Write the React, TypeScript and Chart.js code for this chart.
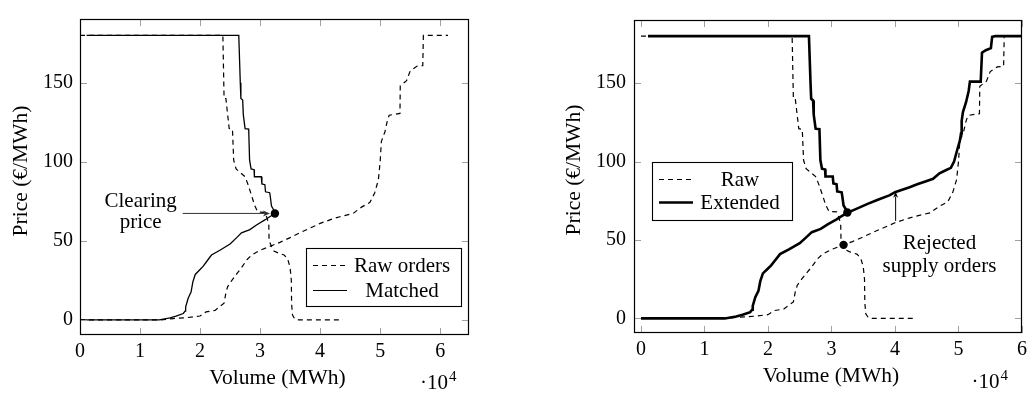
import React, { useEffect, useRef } from "react";
import { Chart, registerables } from "chart.js";

Chart.register(...registerables);

const SERIF = '"Liberation Serif", "Times New Roman", serif';

// ---- Data (volume in MWh, price in €/MWh) ----
const rawDemandVolume = [0, 23800, 23900, 24000, 24300, 24850, 25400, 25600, 26000, 27500, 28000, 28600, 29100, 29600, 30800, 31200, 31450, 31500, 31900, 32300, 33000, 34000, 34600, 35000, 35200, 35250, 35400, 35800, 36400, 43300];
const rawDemandPrice = [180, 180, 160, 140, 140, 121, 120.5, 101, 95.5, 90.5, 85.5, 78.4, 72.3, 68.2, 68, 64, 60, 50, 46.5, 43.5, 42.3, 41, 38.5, 33, 25, 10, 3, 0.5, 0, 0];

const rawSupplyVolume = [0, 13500, 15500, 17800, 20000, 21000, 22500, 23300, 24000, 24300, 24600, 25300, 26100, 26900, 27800, 28600, 30000, 31900, 33300, 35000, 36600, 38300, 40000, 42200, 43300, 45500, 46900, 48300, 49100, 49700, 50000, 50200, 50800, 51200, 51500, 53300, 53350, 54400, 55000, 56100, 57100, 57200, 61300];
const rawSupplyPrice = [0, 0, 0.8, 1.4, 2.4, 5, 6, 8.5, 10.5, 17, 21, 25, 29, 33, 38, 41, 44, 46.9, 49, 52, 55, 58, 61, 64, 65.2, 67.3, 71.3, 74.3, 80.4, 88.5, 100, 112.8, 119, 126, 129.4, 130.6, 148, 151.3, 157.4, 160.4, 160.8, 180, 180];

const matchedDemandVolume = [1100, 26450, 26700, 26800, 27100, 27200, 27500, 28100, 28250, 28500, 29000, 29050, 30200, 30300, 30800, 30900, 31600, 31700, 31900, 32200, 32470];
const matchedDemandPrice = [180, 180, 150, 140, 139, 130, 121, 120.7, 101, 95.5, 95, 90.5, 90.5, 86, 85.5, 81, 80.4, 78, 72, 70, 67.3];

const matchedSupplyVolume = [0, 13200, 15000, 16000, 17200, 17500, 17600, 18000, 18500, 18800, 19200, 20000, 20500, 21100, 21900, 23300, 25000, 26100, 26900, 28300, 29400, 30800, 31600, 32470];
const matchedSupplyPrice = [0, 0, 1.2, 2.4, 4, 5.5, 8, 13.5, 17.6, 24, 28.7, 31.8, 33.8, 36.9, 41, 44, 48, 52, 55, 57.1, 60, 63.2, 65.2, 67.3];

const extendedSupplyTailVolume = [34000, 35600, 37200, 39200, 40000, 40800, 42300, 43500, 44900, 46000, 47000, 48000, 48800, 49300, 49900, 50200, 50400, 50500, 50700, 51200, 51600, 51800, 53500, 53700, 54300, 55100, 55300, 55800, 60000];
const extendedSupplyTailPrice = [70, 72.9, 75.5, 78.6, 80.5, 81.6, 83.6, 85.5, 87.5, 89, 92.5, 94.5, 96, 100, 109, 113, 118, 126, 131.6, 138, 145, 151, 151, 169.4, 171, 172.4, 179.6, 180, 180];

const matchedClearingVolume = [32470];
const matchedClearingPrice = [67.3];
const extendedClearingVolume = [32500, 31900];
const extendedClearingPrice = [67.5, 46.9];

const xTickValues = [0, 10000, 20000, 30000, 40000, 50000, 60000];
const yTickValues = [0, 50, 100, 150];

const leftLegendLabels = ["Raw orders", "Matched"];
const rightLegendLabels = ["Raw", "Extended"];
const clearingLabel = ["Clearing", "price"];
const rejectedLabel = ["Rejected", "supply orders"];

// ---- helpers ----
const pts = (xs: number[], ys: number[]) => xs.map((x, i) => ({ x, y: ys[i] }));

function lineDs(data: any[], width: number, dash: number[]) {
  return {
    data,
    showLine: true,
    borderColor: "#000",
    backgroundColor: "#000",
    borderWidth: width,
    borderDash: dash,
    pointRadius: 0,
    pointHoverRadius: 0,
    tension: 0,
    fill: false,
  };
}

function pointDs(data: any[]) {
  return {
    data,
    showLine: false,
    pointRadius: 4.2,
    pointBackgroundColor: "#000",
    pointBorderWidth: 0,
    borderWidth: 0,
  };
}

function seg(ctx: CanvasRenderingContext2D, x1: number, y1: number, x2: number, y2: number) {
  ctx.beginPath();
  ctx.moveTo(x1, y1);
  ctx.lineTo(x2, y2);
  ctx.stroke();
}

function txt(ctx: CanvasRenderingContext2D, s: string, x: number, y: number, size: number, align: CanvasTextAlign = "center") {
  ctx.font = `${size}px ${SERIF}`;
  ctx.fillStyle = "#000";
  ctx.textAlign = align;
  ctx.textBaseline = "alphabetic";
  ctx.fillText(s, x, y);
}

const framePlugin = {
  id: "frame",
  afterDraw(chart: any) {
    const { ctx, chartArea: a, scales } = chart;
    ctx.save();
    ctx.setLineDash([]);
    ctx.strokeStyle = "#a0a0a0";
    ctx.lineWidth = 1;
    const T = 7;
    for (const v of xTickValues) {
      const px = Math.round(scales.x.getPixelForValue(v)) + 0.5;
      if (px < a.left - 1 || px > a.right + 1) continue;
      seg(ctx, px, a.bottom, px, a.bottom - T);
      seg(ctx, px, a.top, px, a.top + T);
    }
    for (const v of yTickValues) {
      const py = Math.round(scales.y.getPixelForValue(v)) + 0.5;
      seg(ctx, a.left, py, a.left + T, py);
      seg(ctx, a.right, py, a.right - T, py);
    }
    ctx.strokeStyle = "#000";
    ctx.lineWidth = 1.2;
    ctx.strokeRect(Math.round(a.left) + 0.5, Math.round(a.top) + 0.5, Math.round(a.width) - 1, Math.round(a.height) - 1);
    ctx.restore();
  },
};

function drawAxisTitles(ctx: CanvasRenderingContext2D, xCenter: number, xBase: number, expX: number, expBase: number, yCenter: number, yBase: number) {
  txt(ctx, "Volume (MWh)", xCenter, xBase, 21.5);
  // ·10^4
  ctx.font = `21px ${SERIF}`;
  txt(ctx, "·10", expX, expBase, 21, "left");
  ctx.font = `21px ${SERIF}`;
  const w = ctx.measureText("·10").width;
  txt(ctx, "4", expX + w + 1, expBase - 8, 15, "left");
  // y title
  ctx.save();
  ctx.translate(yBase, yCenter);
  ctx.rotate(-Math.PI / 2);
  txt(ctx, "Price (€/MWh)", 0, 0, 21.5);
  ctx.restore();
}

function drawLegend(ctx: CanvasRenderingContext2D, box: { l: number; t: number; r: number; b: number }, rows: { label: string; y: number; base: number; dash: number[]; width: number }[], sx1: number, sx2: number, textX: number) {
  ctx.save();
  ctx.fillStyle = "#fff";
  ctx.fillRect(box.l, box.t, box.r - box.l, box.b - box.t);
  ctx.strokeStyle = "#000";
  ctx.lineWidth = 1.1;
  ctx.setLineDash([]);
  ctx.strokeRect(box.l + 0.5, box.t + 0.5, box.r - box.l, box.b - box.t);
  for (const row of rows) {
    ctx.lineWidth = row.width;
    ctx.setLineDash(row.dash);
    seg(ctx, sx1, row.y, sx2, row.y);
    ctx.setLineDash([]);
    txt(ctx, row.label, textX, row.base, 21);
  }
  ctx.restore();
}

function arrowHead(ctx: CanvasRenderingContext2D, x: number, y: number, dx: number, dy: number, len: number, half: number) {
  const nx = -dy, ny = dx;
  ctx.beginPath();
  ctx.moveTo(x, y);
  ctx.lineTo(x - dx * len + nx * half, y - dy * len + ny * half);
  ctx.lineTo(x - dx * len * 0.7, y - dy * len * 0.7);
  ctx.lineTo(x - dx * len - nx * half, y - dy * len - ny * half);
  ctx.closePath();
  ctx.fill();
}

const leftDecor = {
  id: "leftDecor",
  afterDraw(chart: any) {
    const { ctx, scales } = chart;
    const X = (v: number) => scales.x.getPixelForValue(v);
    const Y = (v: number) => scales.y.getPixelForValue(v);
    ctx.save();
    drawAxisTitles(ctx, 277.5, 383.5, 420, 389, 171, 27);
    drawLegend(
      ctx,
      { l: 306, t: 248, r: 461, b: 306 },
      [
        { label: leftLegendLabels[0], y: 265.5, base: 271.5, dash: [5, 4], width: 1.2 },
        { label: leftLegendLabels[1], y: 290.5, base: 296.5, dash: [], width: 1.2 },
      ],
      313, 347, 402
    );
    // clearing price arrow
    const py = Y(matchedClearingPrice[0]);
    const x1 = X(17100);
    const x2 = X(matchedClearingVolume[0]) - 5;
    ctx.strokeStyle = "#333";
    ctx.fillStyle = "#333";
    ctx.lineWidth = 1;
    seg(ctx, x1, py, x2 - 3, py);
    arrowHead(ctx, x2, py, 1, 0, 7, 3);
    txt(ctx, clearingLabel[0], X(10100), Y(71.3), 21);
    txt(ctx, clearingLabel[1], X(10100), Y(58.2), 21);
    ctx.restore();
  },
};

const rightDecor = {
  id: "rightDecor",
  afterDraw(chart: any) {
    const { ctx, scales } = chart;
    const X = (v: number) => scales.x.getPixelForValue(v);
    const Y = (v: number) => scales.y.getPixelForValue(v);
    ctx.save();
    drawAxisTitles(ctx, 271, 382, 411.5, 388, 170, 20);
    drawLegend(
      ctx,
      { l: 92, t: 162, r: 232, b: 220 },
      [
        { label: rightLegendLabels[0], y: 179.5, base: 185.5, dash: [5, 4], width: 1.2 },
        { label: rightLegendLabels[1], y: 202.5, base: 208.5, dash: [], width: 2.6 },
      ],
      99, 133, 180
    );
    // rejected supply arrow
    const ax = X(40100);
    ctx.strokeStyle = "#000";
    ctx.fillStyle = "#000";
    ctx.lineWidth = 1;
    seg(ctx, ax, Y(62.2), ax, Y(79.6) + 3);
    arrowHead(ctx, ax, Y(80.8), 0, -1, 6, 2.5);
    txt(ctx, rejectedLabel[0], X(47000), Y(44.3), 21);
    txt(ctx, rejectedLabel[1], X(47000), Y(29.6), 21);
    ctx.restore();
  },
};

function buildConfig(o: any): any {
  return {
    type: "scatter",
    data: { datasets: o.datasets },
    options: {
      responsive: false,
      animation: false,
      devicePixelRatio: 1,
      events: [],
      layout: { padding: o.padding },
      plugins: { legend: { display: false }, tooltip: { enabled: false }, title: { display: false } },
      scales: {
        x: {
          type: "linear",
          min: o.xMin,
          max: o.xMax,
          grid: { display: false, drawTicks: false, tickLength: 0 },
          border: { display: false },
          afterFit: (s: any) => { s.height = o.xAxisHeight; },
          afterBuildTicks: (s: any) => { s.ticks = xTickValues.map((v) => ({ value: v })); },
          ticks: {
            font: { family: SERIF, size: 20 },
            color: "#000",
            padding: 5,
            maxRotation: 0,
            autoSkip: false,
            callback: (v: any) => String(Number(v) / 10000),
          },
        },
        y: {
          type: "linear",
          min: o.yMin,
          max: o.yMax,
          grid: { display: false, drawTicks: false, tickLength: 0 },
          border: { display: false },
          afterFit: (s: any) => { s.width = o.yAxisWidth; },
          afterBuildTicks: (s: any) => { s.ticks = yTickValues.map((v) => ({ value: v })); },
          ticks: {
            font: { family: SERIF, size: 20 },
            color: "#000",
            padding: o.yPad,
            autoSkip: false,
            callback: (v: any) => String(v),
          },
        },
      },
    },
    plugins: [framePlugin, o.decor],
  };
}

const leftConfig = () =>
  buildConfig({
    datasets: [
      pointDs(pts(matchedClearingVolume, matchedClearingPrice)),
      lineDs(pts(matchedDemandVolume, matchedDemandPrice), 1.3, []),
      lineDs(pts(matchedSupplyVolume, matchedSupplyPrice), 1.3, []),
      lineDs(pts(rawDemandVolume, rawDemandPrice), 1.2, [5, 4]),
      lineDs(pts(rawSupplyVolume, rawSupplyPrice), 1.2, [5, 4]),
    ],
    padding: { left: 0, top: 6, right: 11, bottom: 0 },
    xAxisHeight: 60,
    yAxisWidth: 80,
    yPad: 7,
    xMin: 0,
    xMax: 64800,
    yMin: -9.6,
    yMax: 190.3,
    decor: leftDecor,
  });

const rightConfig = () =>
  buildConfig({
    datasets: [
      pointDs(pts(extendedClearingVolume, extendedClearingPrice)),
      lineDs(pts(matchedDemandVolume, matchedDemandPrice), 2.6, []),
      lineDs(
        pts(matchedSupplyVolume.concat(extendedSupplyTailVolume), matchedSupplyPrice.concat(extendedSupplyTailPrice)),
        2.6,
        []
      ),
      lineDs(pts(rawDemandVolume, rawDemandPrice), 1.2, [5, 4]),
      lineDs(pts(rawSupplyVolume, rawSupplyPrice), 1.2, [5, 4]),
    ],
    padding: { left: 0, top: 7, right: 5, bottom: 0 },
    xAxisHeight: 62,
    yAxisWidth: 74,
    yPad: 8,
    xMin: -1100,
    xMax: 60000,
    yMin: -9.3,
    yMax: 190.3,
    decor: rightDecor,
  });

function PlotCanvas({ build, left, width, height }: { build: () => any; left: number; width: number; height: number }) {
  const ref = useRef<HTMLCanvasElement>(null);
  useEffect(() => {
    const chart = new Chart(ref.current as HTMLCanvasElement, build());
    return () => chart.destroy();
  }, []);
  return (
    <canvas
      ref={ref}
      width={width}
      height={height}
      style={{ position: "absolute", left, top: 0, width, height, display: "block" }}
    />
  );
}

export default function App() {
  return (
    <div style={{ position: "absolute", left: 0, top: 0, width: 1032, height: 395, background: "#fff", overflow: "hidden" }}>
      <PlotCanvas build={leftConfig} left={0} width={480} height={395} />
      <PlotCanvas build={rightConfig} left={560} width={472} height={395} />
    </div>
  );
}
